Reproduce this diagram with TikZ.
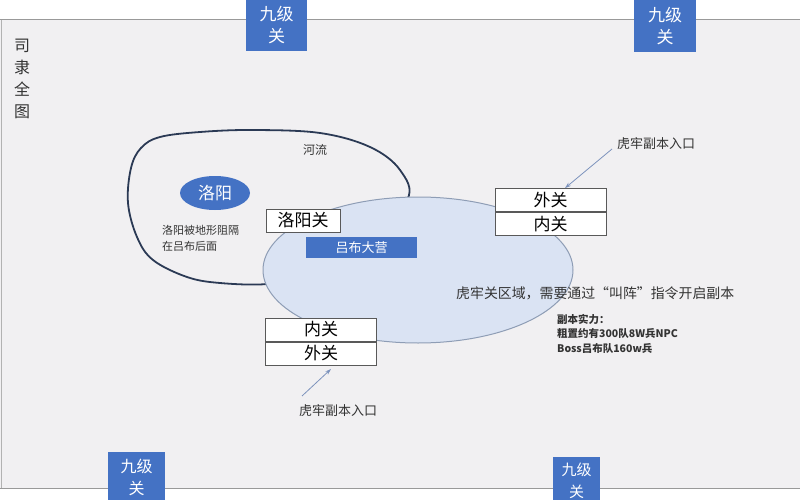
\documentclass[tikz,border=0pt]{standalone}
\usepackage{fontspec}
\setmainfont{Noto Sans CJK SC}
\usetikzlibrary{arrows.meta,shapes.geometric}
\definecolor{panel}{HTML}{F1F0F2}
\definecolor{gblue}{HTML}{4472C4}
\definecolor{lblue}{HTML}{DAE3F3}
\definecolor{lborder}{HTML}{8E9DB5}
\definecolor{river}{HTML}{2B3A55}
\definecolor{txt}{HTML}{333333}
\definecolor{arrowc}{HTML}{7D93BD}
\tikzset{
  gate/.style={fill=gblue, text=white, inner sep=0pt, minimum width=#1, align=center,
    font=\fontsize{17}{22}\selectfont},
  pass/.style={draw=black!65, line width=0.8pt, fill=white, inner sep=0pt,
    minimum width=111pt, minimum height=23pt, font=\fontsize{17}{20}\selectfont, text=black},
  lbl/.style={text=txt, inner sep=0pt},
  entry/.style={draw=arrowc, line width=0.8pt, -{Stealth[length=6pt,width=4pt]}}
}
\begin{document}
\begin{tikzpicture}[x=1pt,y=-1pt]
\useasboundingbox (0,0) rectangle (800,500);
\fill[white] (0,0) rectangle (800,500);
\fill[panel] (0,20) rectangle (800,488);
\draw[black!40, line width=1pt] (0,20) -- (800,20);
\draw[black!40, line width=1pt] (0,488) -- (800,488);
\draw[black!30, line width=0.8pt] (1.5,20) -- (1.5,488);

% river
\draw[river, line width=1.8pt] plot[smooth cycle, tension=0.6] coordinates {
  (160,137) (200,132) (253,130) (320,133) (370,147) (400,170) (407,200)
  (360,240) (300,275) (267,284) (220,283) (187,277) (153,260) (137,237) (128,203) (131,168) (141,148)};

% Hulao region
\node[ellipse, draw=lborder, line width=1pt, fill=lblue, minimum width=310pt, minimum height=146pt,
  inner sep=0pt] (region) at (418,270) {};

% gates
\node[gate=61pt, minimum height=51pt] (g1) at (276.5,25.5) {九级\\关};
\node[gate=62pt, minimum height=52pt] (g2) at (665,26) {九级\\关};
\node[gate=57pt, minimum height=50pt, anchor=north west, font=\fontsize{16}{22}\selectfont] (g3) at (108,452) {九级\\关};
\node[gate=47pt, minimum height=48pt, anchor=north west, font=\fontsize{15}{22}\selectfont] (g4) at (553,457) {九级\\关};

% title
\node[lbl, align=center, font=\fontsize{16}{22}\selectfont] (title) at (22,79) {司\\隶\\全\\图};

% Luoyang
\node[ellipse, fill=gblue, text=white, minimum width=70pt, minimum height=34pt, inner sep=0pt,
  font=\fontsize{17}{20}\selectfont] (ly) at (215,193) {洛阳};
\node[lbl, font=\fontsize{12}{14}\selectfont] (river) at (315,150) {河流};
\node[lbl, anchor=west, align=left, font=\fontsize{11}{16}\selectfont] (lynote) at (162,238)
  {洛阳被地形阻隔\\在吕布后面};
\node[pass, minimum width=74pt] (lyg) at (303,220.5) {洛阳关};
\node[fill=gblue, text=white, minimum width=111pt, minimum height=21pt, inner sep=0pt,
  font=\fontsize{13}{15}\selectfont] (lb) at (361.5,247.5) {吕布大营};

% right entrance
\node[pass] (wo1) at (550.5,200) {外关};
\node[pass] (in1) at (550.5,224) {内关};
\node[lbl, anchor=west, font=\fontsize{13}{15}\selectfont] (e1) at (617,144) {虎牢副本入口};
\coordinate (e1s) at (612,149);
\draw[entry] (e1s) -- (wo1.north -| 565,0);

% bottom entrance
\node[pass] (in2) at (321,329.5) {内关};
\node[pass] (wo2) at (321,353.5) {外关};
\node[lbl, anchor=west, font=\fontsize{13}{15}\selectfont] (e2) at (299,411) {虎牢副本入口};
\coordinate (e2s) at (302,396);
\draw[entry] (e2s) -- (331,369);

% notes
\node[lbl, anchor=west, font=\fontsize{13.9}{16}\selectfont] (note) at (456,293)
  {虎牢关区域，需要通过“叫阵”指令开启副本};
\node[lbl, anchor=north west, align=left, font=\bfseries\fontsize{10.5}{14.5}\selectfont] (power) at (557,314)
  {副本实力：\\粗置约有300队8W兵NPC\\Boss吕布队160w兵};
\end{tikzpicture}
\end{document}
